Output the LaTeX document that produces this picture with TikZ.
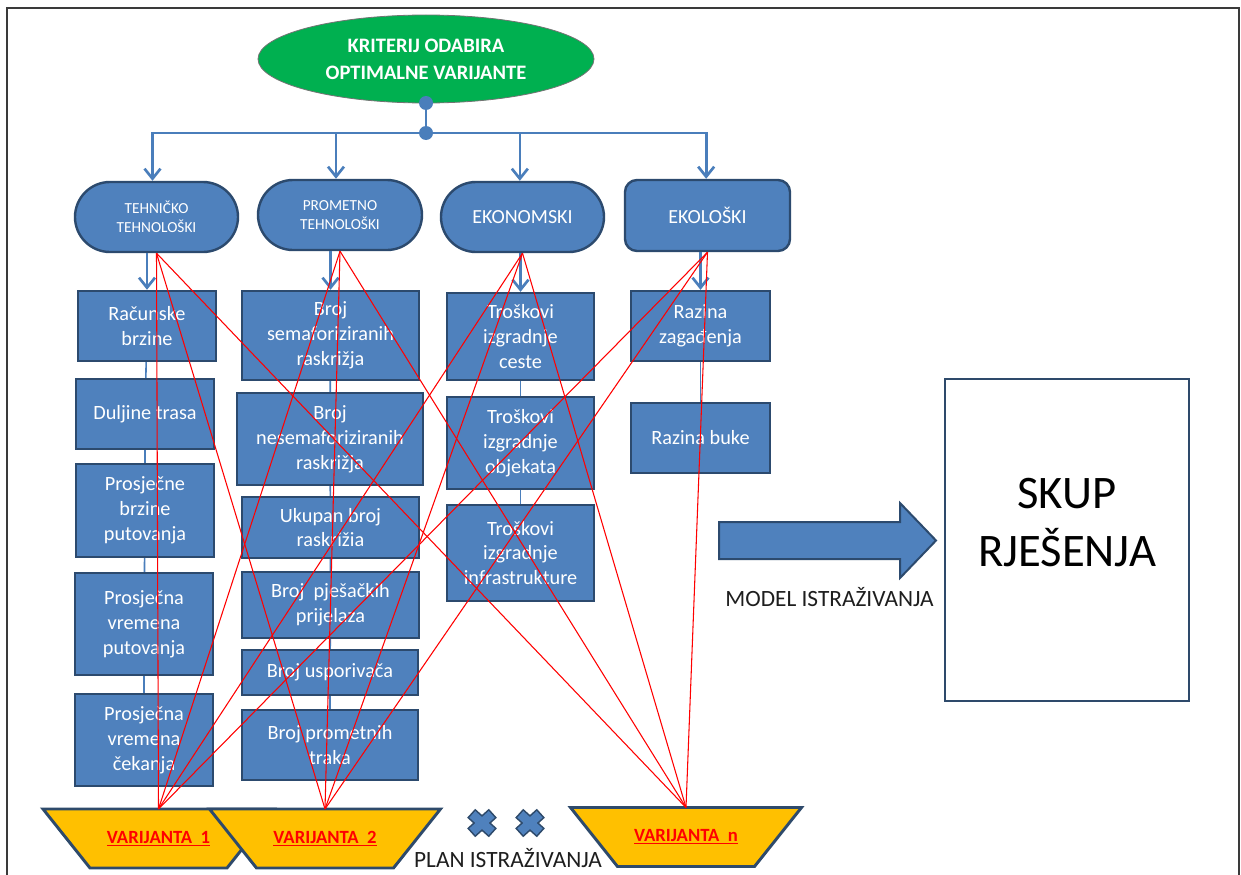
\documentclass[tikz,border=0pt]{standalone}
\usepackage{fontspec}
\setmainfont{Carlito}
\usetikzlibrary{shapes.geometric,shapes.misc,arrows.meta}
\definecolor{boxblue}{HTML}{4F81BD}
\definecolor{boxline}{HTML}{2C4A6E}
\definecolor{linkblue}{HTML}{4A7EBB}
\definecolor{kgreen}{HTML}{00B050}
\definecolor{vyellow}{HTML}{FFC000}
\definecolor{vline}{HTML}{2E4A6B}
\definecolor{framegray}{HTML}{3A3A3A}
\definecolor{inkblack}{HTML}{1E1E1E}

% node from its pixel corners: [style]{name}{x1}{y1}{x2}{y2}{text}
\newcommand\pbox[7][box]{\node[#1, minimum width={(#5-#3)*0.75pt}, minimum height={(#6-#4)*0.75pt}] (#2) at ({(#3+#5)/2},{(#4+#6)/2}) {#7};}

% inverted trapezium with its label: {name}{cx}{cy}{label}
\newcommand\variant[4]{%
  \filldraw[varshape] ({#2-115.5},{#3-29.5}) -- ({#2+115.5},{#3-29.5})
    -- ({#2+68.5},{#3+29.5}) -- ({#2-68.5},{#3+29.5}) -- cycle;
  \node[vartext] (#1) at (#2,#3) {\underline{#4}};
  \coordinate (#1 top) at (#2,{#3-29.5});}

% blue multiplication sign centred at (#1,#2)
\newcommand\mulsign[2]{%
  \begin{scope}[shift={(#1,#2)}]
    \foreach \a in {42,-42} \draw[vline, line width=2.4pt, rotate=\a] (-13,-4.4) rectangle (13,4.4);
    \foreach \a in {42,-42} \fill[boxblue, rotate=\a] (-13,-4.4) rectangle (13,4.4);
  \end{scope}}

\begin{document}
\begin{tikzpicture}[x=0.75pt,y=-0.75pt,
  box/.style={rectangle, draw=boxline, line width=1.8pt, fill=boxblue, text=white,
    align=center, inner sep=0pt, font=\fontsize{15.2}{18.6}\selectfont},
  cat/.style={rounded rectangle, draw=boxline, line width=1.8pt, fill=boxblue, text=white,
    align=center, inner sep=0pt},
  catr/.style={rectangle, rounded corners=9pt, draw=boxline, line width=1.8pt, fill=boxblue,
    text=white, align=center, inner sep=0pt},
  small/.style={font=\fontsize{11.5}{14.3}\selectfont},
  big/.style={font=\fontsize{15}{18}\selectfont},
  varshape/.style={fill=vyellow, draw=vline, line width=2.2pt},
  vartext/.style={inner sep=0pt, text=red, font=\bfseries\fontsize{14}{16}\selectfont},
  bus/.style={linkblue, line width=2pt},
  busarrow/.style={bus, -{Straight Barb[length=7.5pt,width=12pt]}},
  thin/.style={linkblue, line width=1.2pt},
  redl/.style={red, line width=0.8pt},
  dot/.style={circle, fill=linkblue, inner sep=0pt, minimum size=14*0.75pt},
  caption/.style={text=inkblack, inner sep=0pt, font=\fontsize{17.5}{20}\selectfont}
]
\useasboundingbox (0,0) rectangle (1241,874);
\clip (0,0) rectangle (1241,874);
\fill[white] (0,0) rectangle (1241,874);

% outer frame
\draw[framegray, line width=1.2pt] (7,1000) -- (7,8) -- (1239,8) -- (1239,1000);

% criterion ellipse and hub
\node[ellipse, fill=kgreen, draw=black!55, line width=0.6pt, minimum width=336*0.75pt,
  minimum height=88*0.75pt, text=white, align=center, inner sep=0pt,
  font=\bfseries\fontsize{15.4}{20.3}\selectfont] (crit) at (426,59)
  {KRITERIJ ODABIRA\\OPTIMALNE VARIJANTE};
\node[dot] (d1) at (426,103) {};
\node[dot] (hub) at (426,133) {};

% criteria groups
\pbox[cat, small]{T}{75}{182}{238}{252}{TEHNIČKO\\TEHNOLOŠKI}
\pbox[cat, small]{P}{258}{180}{422}{250}{PROMETNO\\TEHNOLOŠKI}
\pbox[cat, big]{E}{441}{182}{604}{252}{EKONOMSKI}
\pbox[catr, big]{K}{625}{180}{790}{251}{EKOLOŠKI}

% technical criteria
\pbox{B11}{78}{291}{216}{361}{Računske\\brzine}
\pbox{B12}{76}{379}{214}{449}{Duljine trasa}
\pbox{B13}{76}{464}{214}{557}{Prosječne\\brzine\\putovanja}
\pbox{B14}{75}{573}{213}{675}{Prosječna\\vremena\\putovanja}
\pbox{B15}{75}{694}{213}{786}{Prosječna\\vremena\\čekanja}

% traffic criteria
\pbox{B21}{242}{291}{419}{380}{Broj\\semaforiziranih\\raskrižja}
\pbox{B22}{237}{393}{423}{485}{Broj\\nesemaforiziranih\\raskrižja}
\pbox{B23}{242}{497}{419}{558}{Ukupan broj\\raskrižia}
\pbox{B24}{242}{572}{419}{638}{Broj\ \ pješačkih\\prijelaza}
\pbox{B25}{242}{650}{418}{695}{Broj usporivača}
\pbox{B26}{242}{710}{418}{780}{Broj prometnih\\traka}

% economic criteria
\pbox{B31}{447}{293}{594}{380}{Troškovi\\izgradnje\\ceste}
\pbox{B32}{447}{397}{594}{489}{Troškovi\\izgradnje\\objekata}
\pbox{B33}{447}{505}{594}{601}{Troškovi\\izgradnje\\infrastrukture}

% ecological criteria
\pbox{B41}{631}{291}{770}{361}{Razina\\zagađenja}
\pbox{B42}{631}{403}{770}{473}{Razina buke}

% hierarchy connectors
\draw[bus] (d1) -- (hub);
\draw[busarrow] (hub) -| ([xshift=-3pt]T.north);
\draw[busarrow] (hub) -| ([xshift=-3pt]P.north);
\draw[busarrow] (hub) -| ([xshift=-2pt]E.north);
\draw[busarrow] (hub) -| ([xshift=-1pt]K.north);

\draw[busarrow] (T.south -| B11.north) -- (B11.north);
\draw[busarrow] (P.south -| B21.north) -- (B21.north);
\draw[busarrow] (E.south -| B31.north) -- (B31.north);
\draw[busarrow] (K.south -| B41.north) -- (B41.north);

\draw[thin] (B11) -- (B12) -- (B13) -- (B14) -- (B15);
\draw[thin] (B21) -- (B22) -- (B23) -- (B24) -- (B25) -- (B26);
\draw[thin] (B31) -- (B32) -- (B33);
\draw[thin] (B41) -- (B42);

% variants
\variant{V1}{158.5}{838.5}{VARIJANTA\ \ 1}
\variant{V2}{325}{838.5}{VARIJANTA\ \ 2}
\variant{Vn}{686}{837}{VARIJANTA\ \ n}

\mulsign{482}{823}
\mulsign{530}{823}
\node[caption] (plan) at (508,858) {PLAN ISTRAŽIVANJA};

% every criteria group feeds every variant
\foreach \c in {T,P,E,K}
  \foreach \v in {V1,V2,Vn}
    \draw[redl] (\c.south) -- (\v\space top);

% research model arrow and solution set
\filldraw[fill=boxblue, draw=boxline, line width=1.5pt]
  (719,522) -- (900,522) -- (900,503) -- (936,540.5) -- (900,578) -- (900,559) -- (719,559) -- cycle;
\node[caption] (model) at (829.5,597) {MODEL ISTRAŽIVANJA};

\pbox[rectangle, draw=vline, line width=2.2pt, fill=white]{S}{945}{379}{1189}{701}{}
\node[text=black, align=center, inner sep=0pt, font=\fontsize{35}{44}\selectfont]
  (St) at ([yshift=13pt]S.center) {SKUP\\RJEŠENJA};
\end{tikzpicture}
\end{document}
